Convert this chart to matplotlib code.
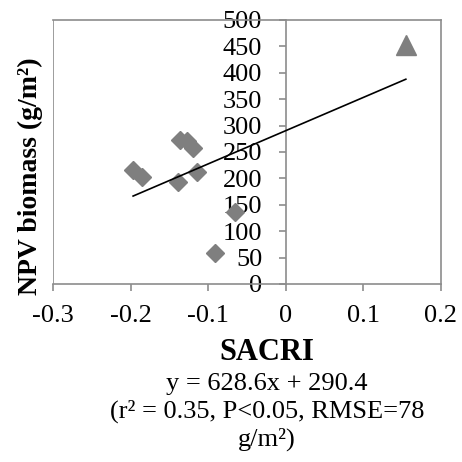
import matplotlib.pyplot as plt
import numpy as np

plt.rcParams['font.family'] = ['Liberation Serif', 'DejaVu Serif']

# SACRI vs NPV biomass samples
sacri_d = [-0.197, -0.186, -0.137, -0.127, -0.120, -0.139, -0.114, -0.066, -0.091]
npv_d = [216, 203, 273, 270, 257, 194, 213, 137, 58]
sacri_t = [0.155]
npv_t = [452]

# fitted line y = 628.6x + 290.4
slope = 628.6
intercept = 290.4

x_ticks = [-0.3, -0.2, -0.1, 0, 0.1, 0.2]
x_labels = ['-0.3', '-0.2', '-0.1', '0', '0.1', '0.2']
y_ticks = [0, 50, 100, 150, 200, 250, 300, 350, 400, 450, 500]

W = H = 462
fig = plt.figure(figsize=(4.62, 4.62), dpi=100)
ax = fig.add_axes([53.3 / W, 1 - 284 / H, (440.7 - 53.3) / W, (284 - 20) / H])

gray = '#8c8c8c'
mk = '#7f7f7f'

ax.plot(sacri_d, npv_d, linestyle='none', marker='D', ms=9, color=mk, zorder=3)
ax.plot(sacri_t, npv_t, linestyle='none', marker='^', ms=15, color=mk, zorder=3)

all_x = sacri_d + sacri_t
xs = np.array([min(all_x), max(all_x)])
ax.plot(xs, slope * xs + intercept, color='black', lw=1.2, zorder=4)

ax.set_xlim(-0.3, 0.2)
ax.set_ylim(0, 500)

# y axis crosses at x = 0
ax.spines['left'].set_position(('data', 0))
for s in ['left', 'bottom', 'top', 'right']:
    ax.spines[s].set_color(gray)
    ax.spines[s].set_linewidth(1.2)
ax.spines['left'].set_zorder(1)

# frame edge at x = -0.3
ax.axvline(-0.3, color=gray, lw=1.2, zorder=1)

fs = 19
ax.set_xticks(x_ticks)
ax.set_xticklabels(x_labels, fontsize=fs)
ax.set_yticks(y_ticks)
ax.set_yticklabels([str(v) for v in y_ticks], fontsize=fs)
ax.tick_params(axis='x', direction='out', length=5, width=1.2, color=gray, pad=10)
ax.tick_params(axis='y', direction='out', length=5, width=1.2, color=gray, pad=12)
for lbl in ax.get_yticklabels():
    lbl.set_zorder(5)

fig.text(30 / W, 1 - 295 / H, 'NPV biomass (g/m²)', rotation=90,
         fontsize=20, fontweight='bold', ha='center', va='bottom')
fig.text(267 / W, 1 - 360 / H, 'SACRI', fontsize=22, fontweight='bold',
         ha='center', va='baseline')
fig.text(267 / W, 1 - 390 / H, 'y = 628.6x + 290.4', fontsize=fs,
         ha='center', va='baseline')
fig.text(267 / W, 1 - 418 / H, '(r² = 0.35, P<0.05, RMSE=78', fontsize=fs,
         ha='center', va='baseline')
fig.text(267 / W, 1 - 446 / H, 'g/m²)', fontsize=fs,
         ha='center', va='baseline')

fig.savefig('out.png', dpi=100)
